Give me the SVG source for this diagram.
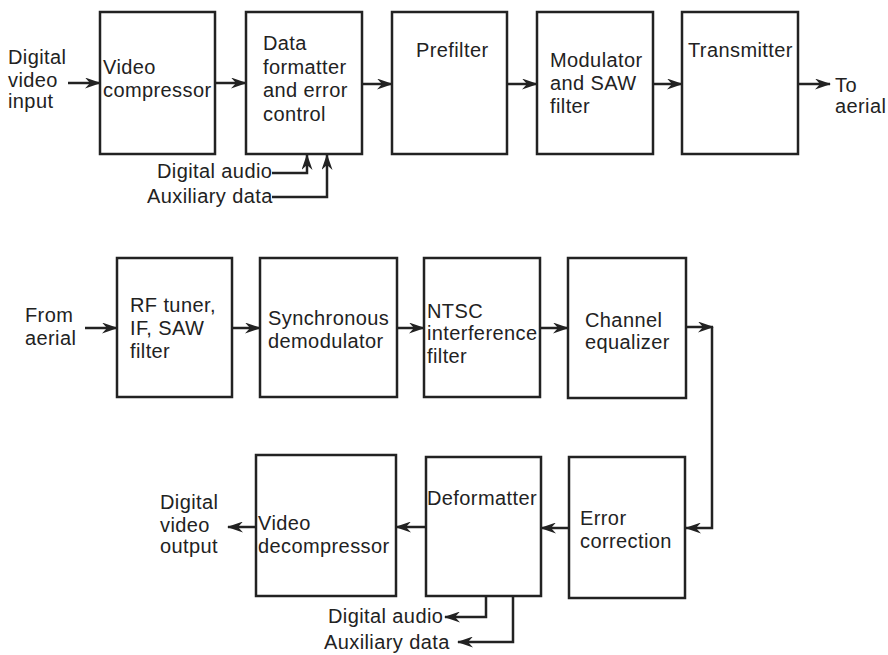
<svg xmlns="http://www.w3.org/2000/svg" width="888" height="655" viewBox="0 0 888 655">
<style>
.box{fill:#fff;stroke:#222;stroke-width:2.5}
.t{font-family:"Liberation Sans",Arial,sans-serif;font-size:20px;letter-spacing:0.4px;fill:#222}
.c{fill:none;stroke:#222;stroke-width:2.5}
</style>
<defs>
<marker id="ah" viewBox="0 0 16 11" refX="15" refY="5.5" markerWidth="16" markerHeight="11" markerUnits="userSpaceOnUse" orient="auto">
<path d="M0,0 L16,5.5 L0,11 L5,5.5 z" fill="#222"/>
</marker>
</defs>
<rect width="888" height="655" fill="#fff"/>
<g id="connectors">
<line class="c" x1="68" y1="83" x2="100" y2="83" marker-end="url(#ah)"/>
<line class="c" x1="215" y1="83" x2="246" y2="83" marker-end="url(#ah)"/>
<line class="c" x1="362" y1="84" x2="392" y2="84" marker-end="url(#ah)"/>
<line class="c" x1="507" y1="84" x2="537" y2="84" marker-end="url(#ah)"/>
<line class="c" x1="653" y1="84" x2="682" y2="84" marker-end="url(#ah)"/>
<line class="c" x1="798" y1="84" x2="830" y2="84" marker-end="url(#ah)"/>
<polyline class="c" points="272,173 307,173 307,155" marker-end="url(#ah)"/>
<polyline class="c" points="272,197 327,197 327,155" marker-end="url(#ah)"/>
<line class="c" x1="85" y1="328" x2="117" y2="328" marker-end="url(#ah)"/>
<line class="c" x1="232" y1="328" x2="260" y2="328" marker-end="url(#ah)"/>
<line class="c" x1="397" y1="328" x2="424" y2="328" marker-end="url(#ah)"/>
<line class="c" x1="540" y1="328" x2="568" y2="328" marker-end="url(#ah)"/>
<line class="c" x1="686" y1="327" x2="713" y2="327" marker-end="url(#ah)"/>
<polyline class="c" points="712,327 712,528 686,528" marker-end="url(#ah)"/>
<line class="c" x1="569" y1="528" x2="541" y2="528" marker-end="url(#ah)"/>
<line class="c" x1="426" y1="527" x2="396" y2="527" marker-end="url(#ah)"/>
<line class="c" x1="256" y1="527" x2="228" y2="527" marker-end="url(#ah)"/>
<polyline class="c" points="486,596 486,617 445,617" marker-end="url(#ah)"/>
<polyline class="c" points="513,596 513,642 458,642" marker-end="url(#ah)"/>
</g>
<g id="labels">
<text class="t" x="8" y="64">Digital</text>
<text class="t" x="8" y="87">video</text>
<text class="t" x="8" y="108">input</text>
<text class="t" x="835" y="92">To</text>
<text class="t" x="835" y="113">aerial</text>
<text class="t" x="157" y="178">Digital audio</text>
<text class="t" x="147" y="203">Auxiliary data</text>
<text class="t" x="25" y="322">From</text>
<text class="t" x="25" y="345">aerial</text>
<text class="t" x="160" y="509">Digital</text>
<text class="t" x="160" y="532">video</text>
<text class="t" x="160" y="553">output</text>
<text class="t" x="328" y="623">Digital audio</text>
<text class="t" x="324" y="649">Auxiliary data</text>
</g>
<g id="video-compressor">
<rect class="box" x="100" y="12" width="115" height="142"/>
<text class="t" x="103" y="74">Video</text>
<text class="t" x="103" y="97">compressor</text>
</g>
<g id="data-formatter">
<rect class="box" x="246" y="12" width="116" height="142"/>
<text class="t" x="263" y="50">Data</text>
<text class="t" x="263" y="74">formatter</text>
<text class="t" x="263" y="97">and error</text>
<text class="t" x="263" y="121">control</text>
</g>
<g id="prefilter">
<rect class="box" x="392" y="12" width="115" height="142"/>
<text class="t" x="416" y="57">Prefilter</text>
</g>
<g id="modulator">
<rect class="box" x="537" y="12" width="116" height="142"/>
<text class="t" x="550" y="67">Modulator</text>
<text class="t" x="550" y="90">and SAW</text>
<text class="t" x="550" y="113">filter</text>
</g>
<g id="transmitter">
<rect class="box" x="682" y="12" width="116" height="142"/>
<text class="t" x="688" y="57">Transmitter</text>
</g>
<g id="rf-tuner">
<rect class="box" x="117" y="258" width="115" height="139"/>
<text class="t" x="130" y="312">RF tuner,</text>
<text class="t" x="130" y="335">IF, SAW</text>
<text class="t" x="130" y="358">filter</text>
</g>
<g id="sync-demod">
<rect class="box" x="260" y="258" width="137" height="139"/>
<text class="t" x="268" y="325">Synchronous</text>
<text class="t" x="268" y="348">demodulator</text>
</g>
<g id="ntsc-filter">
<rect class="box" x="424" y="258" width="116" height="139"/>
<text class="t" x="427" y="318">NTSC</text>
<text class="t" x="427" y="340">interference</text>
<text class="t" x="427" y="363">filter</text>
</g>
<g id="channel-equalizer">
<rect class="box" x="568" y="258" width="118" height="140"/>
<text class="t" x="585" y="327">Channel</text>
<text class="t" x="585" y="349">equalizer</text>
</g>
<g id="error-correction">
<rect class="box" x="569" y="457" width="116" height="141"/>
<text class="t" x="580" y="525">Error</text>
<text class="t" x="580" y="548">correction</text>
</g>
<g id="deformatter">
<rect class="box" x="426" y="457" width="115" height="139"/>
<text class="t" x="427" y="505">Deformatter</text>
</g>
<g id="video-decompressor">
<rect class="box" x="256" y="455" width="140" height="141"/>
<text class="t" x="258" y="530">Video</text>
<text class="t" x="258" y="553">decompressor</text>
</g>
</svg>
